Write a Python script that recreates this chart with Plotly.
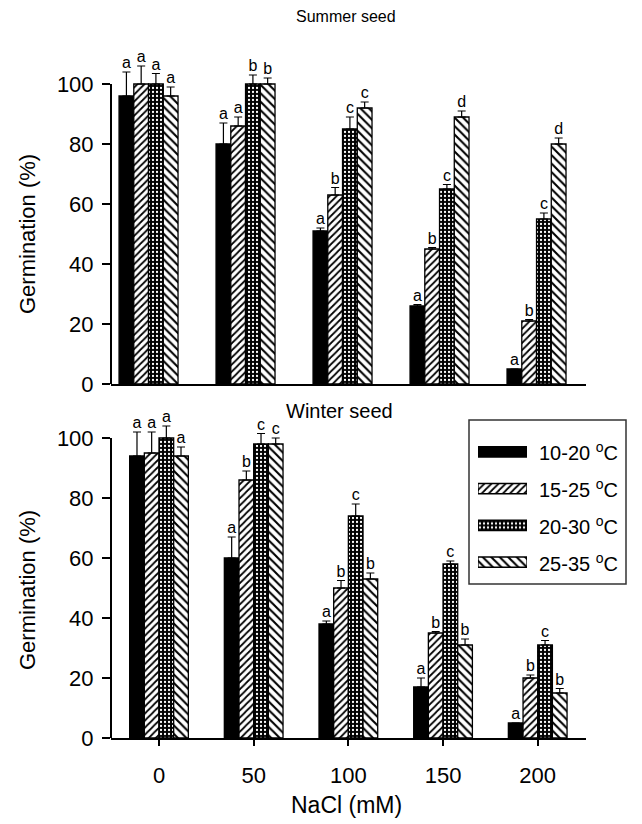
import plotly.graph_objects as go

# ---------------- data ----------------
nacl = ["0", "50", "100", "150", "200"]
series = ["10-20 <sup>o</sup>C", "15-25 <sup>o</sup>C", "20-30 <sup>o</sup>C", "25-35 <sup>o</sup>C"]
yticks = [0, 20, 40, 60, 80, 100]

summer_1020 = [96, 80, 51, 26, 5]
summer_1525 = [100, 86, 63, 45, 21]
summer_2030 = [100, 100, 85, 65, 55]
summer_2535 = [96, 100, 92, 89, 80]
summer_err_1020 = [8, 7, 1, 0.5, 0]
summer_err_1525 = [6, 3, 2.5, 0.5, 0.5]
summer_err_2030 = [3.5, 3, 4, 1.5, 2]
summer_err_2535 = [3, 2, 2, 2, 2]
summer_let_1020 = ["a", "a", "a", "a", "a"]
summer_let_1525 = ["a", "a", "b", "b", "b"]
summer_let_2030 = ["a", "b", "c", "c", "c"]
summer_let_2535 = ["a", "b", "c", "d", "d"]

winter_1020 = [94, 60, 38, 17, 5]
winter_1525 = [95, 86, 50, 35, 20]
winter_2030 = [100, 98, 74, 58, 31]
winter_2535 = [94, 98, 53, 31, 15]
winter_err_1020 = [8, 7, 1, 3, 0]
winter_err_1525 = [7, 3, 2.5, 0.5, 1]
winter_err_2030 = [4, 3.5, 4, 1, 1.5]
winter_err_2535 = [3, 2, 2, 2, 1.5]
winter_let_1020 = ["a", "a", "a", "a", "a"]
winter_let_1525 = ["a", "b", "b", "b", "b"]
winter_let_2030 = ["a", "c", "c", "c", "c"]
winter_let_2535 = ["a", "c", "b", "b", "b"]

summer = [summer_1020, summer_1525, summer_2030, summer_2535]
summer_err = [summer_err_1020, summer_err_1525, summer_err_2030, summer_err_2535]
summer_let = [summer_let_1020, summer_let_1525, summer_let_2030, summer_let_2535]
winter = [winter_1020, winter_1525, winter_2030, winter_2535]
winter_err = [winter_err_1020, winter_err_1525, winter_err_2030, winter_err_2535]
winter_let = [winter_let_1020, winter_let_1525, winter_let_2030, winter_let_2535]

# ---------------- styles ----------------
FONT = "Liberation Sans, Arial, sans-serif"
PAGE_MARGIN = 8          # default body margin of the html page
W, H = 642 - PAGE_MARGIN, 824 - PAGE_MARGIN

def pattern_marker(i):
    line = dict(color="black", width=1.3)
    if i == 0:
        return dict(color="black", line=line)
    if i == 1:
        return dict(color="white", line=line,
                    pattern=dict(shape="/", size=5, solidity=0.35, fgcolor="black",
                                 bgcolor="white", fillmode="replace"))
    if i == 2:
        return dict(color="black", line=line,
                    pattern=dict(shape=".", size=4, solidity=0.25, fgcolor="white",
                                 bgcolor="black", fillmode="replace"))
    return dict(color="white", line=line,
                pattern=dict(shape="\\", size=6, solidity=0.35, fgcolor="black",
                             bgcolor="white", fillmode="replace"))

fig = go.Figure()
cats = list(range(len(nacl)))

def add_panel(values, errs, letters, xa, ya, w):
    for i in range(4):
        off = (-2 + i) * w
        fig.add_trace(go.Bar(
            x=cats, y=values[i], width=w, offset=off,
            marker=pattern_marker(i),
            error_y=dict(type="data", array=errs[i], arrayminus=[0] * len(cats),
                         symmetric=False, color="black", thickness=1.2, width=4),
            xaxis=xa, yaxis=ya, showlegend=False, cliponaxis=False,
        ))
        fig.add_trace(go.Scatter(
            x=[c + off + w / 2 for c in cats],
            y=[v + e for v, e in zip(values[i], errs[i])],
            mode="text", text=letters[i], textposition="top center",
            textfont=dict(size=16, color="black", family=FONT),
            xaxis=xa, yaxis=ya, showlegend=False, cliponaxis=False,
        ))

add_panel(summer, summer_err, summer_let, "x", "y", 0.152)
add_panel(winter, winter_err, winter_let, "x2", "y2", 0.155)

# legend drawn as a small axes with horizontal pattern bars
for i, name in enumerate(series):
    fig.add_trace(go.Bar(
        x=[1], y=[i], base=0, orientation="h", width=0.28,
        marker=pattern_marker(i), xaxis="x3", yaxis="y3", showlegend=False,
    ))
    fig.add_annotation(x=1, y=i, xref="x3", yref="y3", text=name, showarrow=False,
                       xanchor="left", yanchor="middle", xshift=10,
                       font=dict(size=20, family=FONT, color="black"))

def px_x(p):
    return (p - PAGE_MARGIN) / W

def px_y(p):
    return 1 - (p - PAGE_MARGIN) / H

xdom = [px_x(111), px_x(586)]
axis_common = dict(showline=True, linecolor="black", linewidth=2, showgrid=False,
                   zeroline=False, automargin=False,
                   tickfont=dict(size=22, family=FONT, color="black"))
yaxis_common = dict(axis_common, showline=False, range=[0, 110], tickvals=yticks,
                    ticks="outside", ticklen=8, tickwidth=2, tickcolor="black",
                    ticklabelstandoff=4)

fig.update_layout(
    width=W, height=H, margin=dict(l=0, r=0, t=0, b=0, autoexpand=False),
    paper_bgcolor="white", plot_bgcolor="white",
    font=dict(family=FONT, color="black"),
    xaxis=dict(axis_common, domain=xdom, range=[-0.387, 4.51], showticklabels=False,
               ticks="", anchor="y"),
    yaxis=dict(yaxis_common, domain=[px_y(384), px_y(54)], anchor="x"),
    xaxis2=dict(axis_common, domain=xdom, range=[-0.507, 4.51], anchor="y2",
                tickvals=cats, ticktext=nacl, ticks="outside", ticklen=6, tickwidth=2,
                tickcolor="black", ticklabelstandoff=11),
    yaxis2=dict(yaxis_common, domain=[px_y(738), px_y(408)], anchor="x2"),
    xaxis3=dict(domain=[px_x(478), px_x(527)], range=[0, 1], visible=False, anchor="y3",
                automargin=False),
    yaxis3=dict(domain=[px_y(580.5), px_y(433.5)], range=[3.5, -0.5], visible=False,
                anchor="x3", automargin=False),
)

# axis lines: x axis extends slightly left, y axis stops at 100
for xr, yr in (("x domain", "y"), ("x2 domain", "y2")):
    fig.add_shape(type="line", xref=xr, yref=yr, x0=-0.017, x1=0, y0=0, y1=0,
                  line=dict(color="black", width=2))
    fig.add_shape(type="line", xref=xr, yref=yr, x0=0, x1=0, y0=yticks[0], y1=yticks[-1],
                  line=dict(color="black", width=2))

# legend frame
fig.add_shape(type="rect", xref="paper", yref="paper", x0=px_x(469), x1=px_x(626),
              y0=px_y(584), y1=px_y(420), line=dict(color="#333", width=1.5))

# titles
def label(x, y, text, size, angle=0):
    fig.add_annotation(x=px_x(x), y=px_y(y), xref="paper", yref="paper", text=text,
                       textangle=angle, showarrow=False, xanchor="center", yanchor="middle",
                       font=dict(size=size, family=FONT, color="black"))

label(346, 17, "Summer seed", 16)
label(339, 411, "Winter seed", 20)
label(27, 234, "Germination (%)", 22, -90)
label(27, 590, "Germination (%)", 22, -90)
label(346, 805, "NaCl (mM)", 23)

fig.write_html("out.html")
